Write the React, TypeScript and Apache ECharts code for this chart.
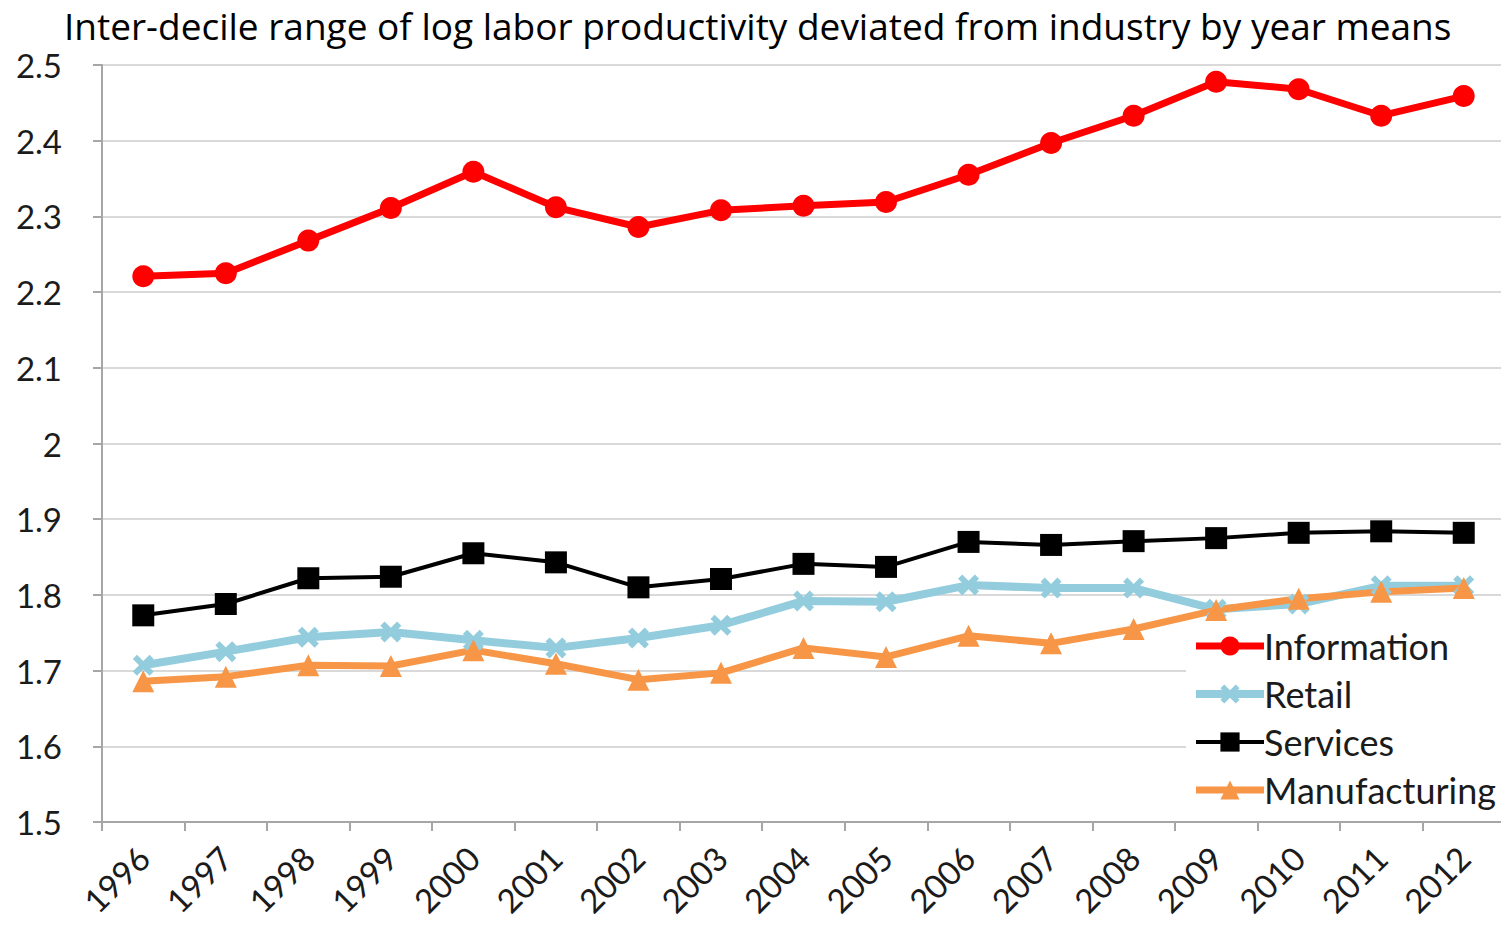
import React, { useEffect, useRef } from "react";
import * as echarts from "echarts";

// Years on the category axis
const years = [
  "1996", "1997", "1998", "1999", "2000", "2001", "2002", "2003", "2004",
  "2005", "2006", "2007", "2008", "2009", "2010", "2011", "2012",
];

// Inter-decile range per sector and year
const information = [
  2.221, 2.225, 2.268, 2.311, 2.359, 2.312, 2.286, 2.308, 2.314,
  2.319, 2.355, 2.397, 2.433, 2.478, 2.468, 2.433, 2.459,
];
const retail = [
  1.707, 1.725, 1.744, 1.751, 1.740, 1.730, 1.743, 1.760, 1.792,
  1.791, 1.813, 1.809, 1.809, 1.781, 1.788, 1.812, 1.812,
];
const services = [
  1.773, 1.788, 1.822, 1.824, 1.855, 1.843, 1.810, 1.821, 1.841,
  1.837, 1.870, 1.866, 1.871, 1.875, 1.882, 1.884, 1.882,
];
const manufacturing = [
  1.686, 1.692, 1.707, 1.706, 1.727, 1.709, 1.688, 1.697, 1.730,
  1.718, 1.746, 1.736, 1.755, 1.780, 1.795, 1.804, 1.809,
];

const titleText =
  "Inter-decile range of log labor productivity deviated from industry by year means";

const FONT = "Lato, 'Open Sans', sans-serif";
const TITLE_FONT = "'Open Sans', Lato, sans-serif";
const TEXT_COLOR = "#1b1b1b";
const AXIS_COLOR = "#a6a6a6";
const GRID_COLOR = "#d9d9d9";

// Thick "x" marker drawn as a filled outline
const crossSymbol =
  "path://M2,0 L5,3 L8,0 L10,2 L7,5 L10,8 L8,10 L5,7 L2,10 L0,8 L3,5 L0,2 Z";

const SERIES_STYLE = [
  { name: "Information", data: information, color: "#ff0000", width: 7, symbol: "circle", size: 22 },
  { name: "Retail", data: retail, color: "#93cddd", width: 8, symbol: crossSymbol, size: 21 },
  { name: "Services", data: services, color: "#000000", width: 4, symbol: "rect", size: 22 },
  { name: "Manufacturing", data: manufacturing, color: "#f79646", width: 7, symbol: "triangle", size: 22 },
];

export default function App() {
  const ref = useRef<HTMLDivElement>(null);

  useEffect(() => {
    if (!ref.current) return;
    const chart = echarts.init(ref.current, undefined, { renderer: "svg" });

    chart.setOption({
      animation: false,
      backgroundColor: "#ffffff",
      title: {
        text: titleText,
        left: 64,
        top: 3,
        padding: 0,
        textStyle: {
          fontFamily: TITLE_FONT,
          fontWeight: "normal",
          fontSize: 37,
          lineHeight: 44,
          color: "#000000",
        },
      },
      grid: {
        left: 102,
        right: -4,
        top: 65,
        bottom: 105,
        containLabel: false,
        outerBoundsMode: "none",
      },
      xAxis: {
        type: "category",
        data: years,
        boundaryGap: true,
        axisLine: { show: true, lineStyle: { color: AXIS_COLOR, width: 2 } },
        axisTick: { show: true, length: 9, lineStyle: { color: AXIS_COLOR, width: 2 } },
        axisLabel: {
          rotate: 45,
          margin: 30,
          fontFamily: FONT,
          fontSize: 33,
          lineHeight: 33,
          color: TEXT_COLOR,
          interval: 0,
        },
        splitLine: { show: false },
      },
      yAxis: {
        type: "value",
        min: 1.5,
        max: 2.5,
        interval: 0.1,
        axisLine: { show: true, lineStyle: { color: AXIS_COLOR, width: 2 } },
        axisTick: { show: true, length: 9, lineStyle: { color: AXIS_COLOR, width: 2 } },
        axisLabel: {
          margin: 40,
          fontFamily: FONT,
          fontSize: 33,
          color: TEXT_COLOR,
          formatter: (v: number) => String(Math.round(v * 10) / 10),
        },
        splitLine: { show: true, lineStyle: { color: GRID_COLOR, width: 2 } },
      },
      legend: {
        orient: "vertical",
        left: 1186,
        top: 624,
        backgroundColor: "#ffffff",
        padding: [4, 40, 8, 6],
        itemWidth: 68,
        itemHeight: 24,
        itemGap: 12,
        textStyle: { fontFamily: FONT, fontSize: 36, color: TEXT_COLOR, padding: [0, 0, 0, -5] },
        data: SERIES_STYLE.map((s) => ({
          name: s.name,
          lineStyle: { color: s.color, width: s.width },
          itemStyle: { color: s.color },
        })),
      },
      series: SERIES_STYLE.map((s) => ({
        name: s.name,
        type: "line",
        data: s.data,
        symbol: s.symbol,
        symbolSize: s.size,
        showSymbol: true,
        lineStyle: { color: s.color, width: s.width },
        itemStyle: { color: s.color, borderWidth: 0 },
        emphasis: { disabled: true },
      })),
    });

    return () => chart.dispose();
  }, []);

  return (
    <div
      ref={ref}
      style={{ position: "fixed", left: 0, top: 0, width: 1501, height: 927, background: "#fff" }}
    />
  );
}
